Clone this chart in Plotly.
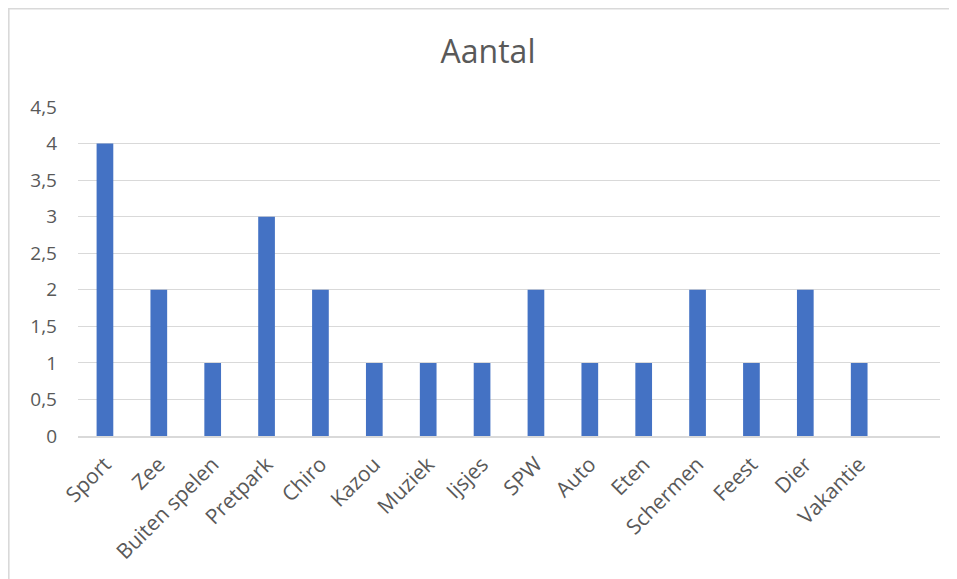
import plotly.graph_objects as go

categories = ["Sport", "Zee", "Buiten spelen", "Pretpark", "Chiro", "Kazou", "Muziek",
              "Ijsjes", "SPW", "Auto", "Eten", "Schermen", "Feest", "Dier", "Vakantie"]
values = [4, 2, 1, 3, 2, 1, 1, 1, 2, 1, 1, 2, 1, 2, 1]
y_ticks = [0, 0.5, 1, 1.5, 2, 2.5, 3, 3.5, 4, 4.5]
y_tick_labels = ["0", "0,5", "1", "1,5", "2", "2,5", "3", "3,5", "4", "4,5"]
title_text = "Aantal"

# page body adds an 8px margin; figure coordinates below are page pixels minus 8
OFF = 8
W, H = 957 - OFF, 579 - OFF
L, R, T, B = 78 - OFF, 17, 107 - OFF, 143
pw, ph = W - L - R, H - T - B

def px_x(p):
    return (p - OFF - L) / pw

def px_y(p):
    return (H - B - (p - OFF)) / ph

fig = go.Figure(go.Bar(x=categories, y=values, marker=dict(color="#4472C4", line=dict(width=0))))

fig.update_layout(
    width=W, height=H,
    margin=dict(l=L, r=R, t=T, b=B),
    paper_bgcolor="white", plot_bgcolor="white",
    font=dict(family="Open Sans", color="#595959", size=18),
    title=dict(text=title_text, x=px_x(488), xanchor="center", xref="paper",
               y=1 - (52 - OFF) / H, yanchor="middle",
               font=dict(size=32, color="#595959")),
    bargap=0.69,
    showlegend=False,
    shapes=[dict(type="rect", xref="paper", yref="paper",
                 x0=px_x(8.8), x1=px_x(990), y0=px_y(990), y1=px_y(8.8),
                 line=dict(color="#d9d9d9", width=1.6), fillcolor="rgba(0,0,0,0)", layer="below")],
)
fig.update_xaxes(type="category", range=[-0.5, 15.5], tickangle=-45, showgrid=False,
                 showline=True, linecolor="#d9d9d9", linewidth=1.5, ticks="", ticklabelstandoff=6,
                 tickfont=dict(size=21))
fig.update_yaxes(range=[0, 4.5], tickvals=y_ticks, ticktext=y_tick_labels, showgrid=True,
                 gridcolor="#d9d9d9", gridwidth=1.4, zeroline=False, showline=False,
                 ticks="", ticklabelstandoff=20, tickfont=dict(size=19))

fig.write_html("out.html")
